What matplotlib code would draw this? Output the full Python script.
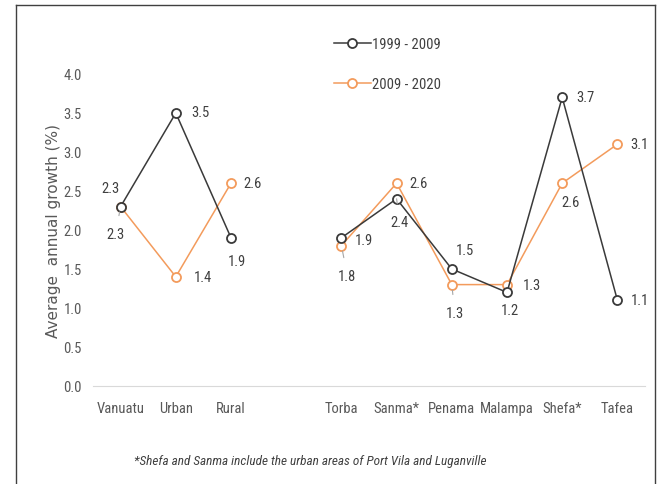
import numpy as np
import matplotlib
matplotlib.use("Agg")
import matplotlib.pyplot as plt
import matplotlib.font_manager as fm
from matplotlib.lines import Line2D

# pick a narrow font (Calibri-like look) if one is installed
names = {f.name for f in fm.fontManager.ttflist}
narrow = [n for n in ['Liberation Sans Narrow', 'Roboto Condensed', 'Open Sans Condensed'] if n in names]
if narrow:
    plt.rcParams['font.family'] = [narrow[0], 'DejaVu Sans']
else:
    plt.rcParams['font.family'] = ['DejaVu Sans']
    plt.rcParams['font.stretch'] = 'condensed'

# data
categories = ['Vanuatu', 'Urban', 'Rural', '', 'Torba', 'Sanma*', 'Penama', 'Malampa', 'Shefa*', 'Tafea']
growth_1999 = [2.3, 3.5, 1.9, np.nan, 1.9, 2.4, 1.5, 1.2, 3.7, 1.1]
growth_2009 = [2.3, 1.4, 2.6, np.nan, 1.8, 2.6, 1.3, 1.3, 2.6, 3.1]
series_names = ['1999 - 2009', '2009 - 2020']
yticks = [0.0, 0.5, 1.0, 1.5, 2.0, 2.5, 3.0, 3.5, 4.0]

# label offsets in pixels (dx, dy) and whether a leader line is drawn
off_1999 = [(-10, 19, False), (25, 1, False), (6, -23, False), None, (23, -2, False),
            (3, -23, True), (13, 19, False), (3, -18, False), (23, 0, False), (23, 0, False)]
off_2009 = [(-5, -27, True), (27, 0, False), (22, 0, False), None, (6, -30, True),
            (22, 0, False), (3, -28, True), (25, 0, False), (8, -19, False), (22, 0, False)]

black = '#3a3a3a'
orange = '#F39B5C'
txt = '#404040'
fs = 10.5

fig = plt.figure(figsize=(6.67, 4.85), dpi=100)
ax = fig.add_axes([93/667, 98/485, 552/667, 312/485])

x = np.arange(len(categories))
ax.plot(x, growth_1999, color=black, lw=1.1, marker='o', ms=6.5,
        mfc='white', mec=black, mew=1.3, label=series_names[0], zorder=3)
ax.plot(x, growth_2009, color=orange, lw=1.1, marker='o', ms=6.5,
        mfc='white', mec=orange, mew=1.3, label=series_names[1], zorder=2)

for vals, offs in [(growth_1999, off_1999), (growth_2009, off_2009)]:
    for i, (v, o) in enumerate(zip(vals, offs)):
        if o is None:
            continue
        dx, dy, lead = o
        ap = dict(arrowstyle='-', color='#a6a6a6', lw=0.8, shrinkA=6, shrinkB=4) if lead else None
        ax.annotate(f'{v:.1f}', (i, v), xytext=(dx, dy), textcoords='offset pixels',
                    ha='center', va='center', fontsize=fs, color=txt, arrowprops=ap)

ax.set_xlim(-0.5, len(categories) - 0.5)
ax.set_ylim(0, 4.0)
ax.set_yticks(yticks)
ax.set_yticklabels([f'{t:.1f}' for t in yticks])
ax.set_xticks(x)
ax.set_xticklabels(categories)
ax.tick_params(axis='both', length=0, labelsize=fs, labelcolor='#595959')
ax.tick_params(axis='x', pad=11)
ax.tick_params(axis='y', pad=8)
for s in ['top', 'right', 'left']:
    ax.spines[s].set_visible(False)
ax.spines['bottom'].set_color('#d9d9d9')
ax.set_ylabel('Average  annual growth (%)', fontsize=11, color='#595959', labelpad=2,
              family=['DejaVu Sans'])

fig.legend(loc='upper left', bbox_to_anchor=(321/667, 1 - 25/485), frameon=False,
           fontsize=fs, labelspacing=1.8, handlelength=2.5, handletextpad=0.12,
           labelcolor=txt)

fig.text(310/667, 1 - 462/485,
         '*Shefa and Sanma include the urban areas of Port Vila and Luganville',
         ha='center', va='center', fontsize=9.5, style='italic', color='#404040')

# outer frame
fig.add_artist(Line2D([16/667, 16/667], [0, 1 - 6/485], transform=fig.transFigure, color='#404040', lw=1))
fig.add_artist(Line2D([16/667, 655/667], [1 - 6/485, 1 - 6/485], transform=fig.transFigure, color='#404040', lw=1))
fig.add_artist(Line2D([655/667, 655/667], [0, 1 - 6/485], transform=fig.transFigure, color='#404040', lw=1))

fig.savefig('out.png', dpi=100)
